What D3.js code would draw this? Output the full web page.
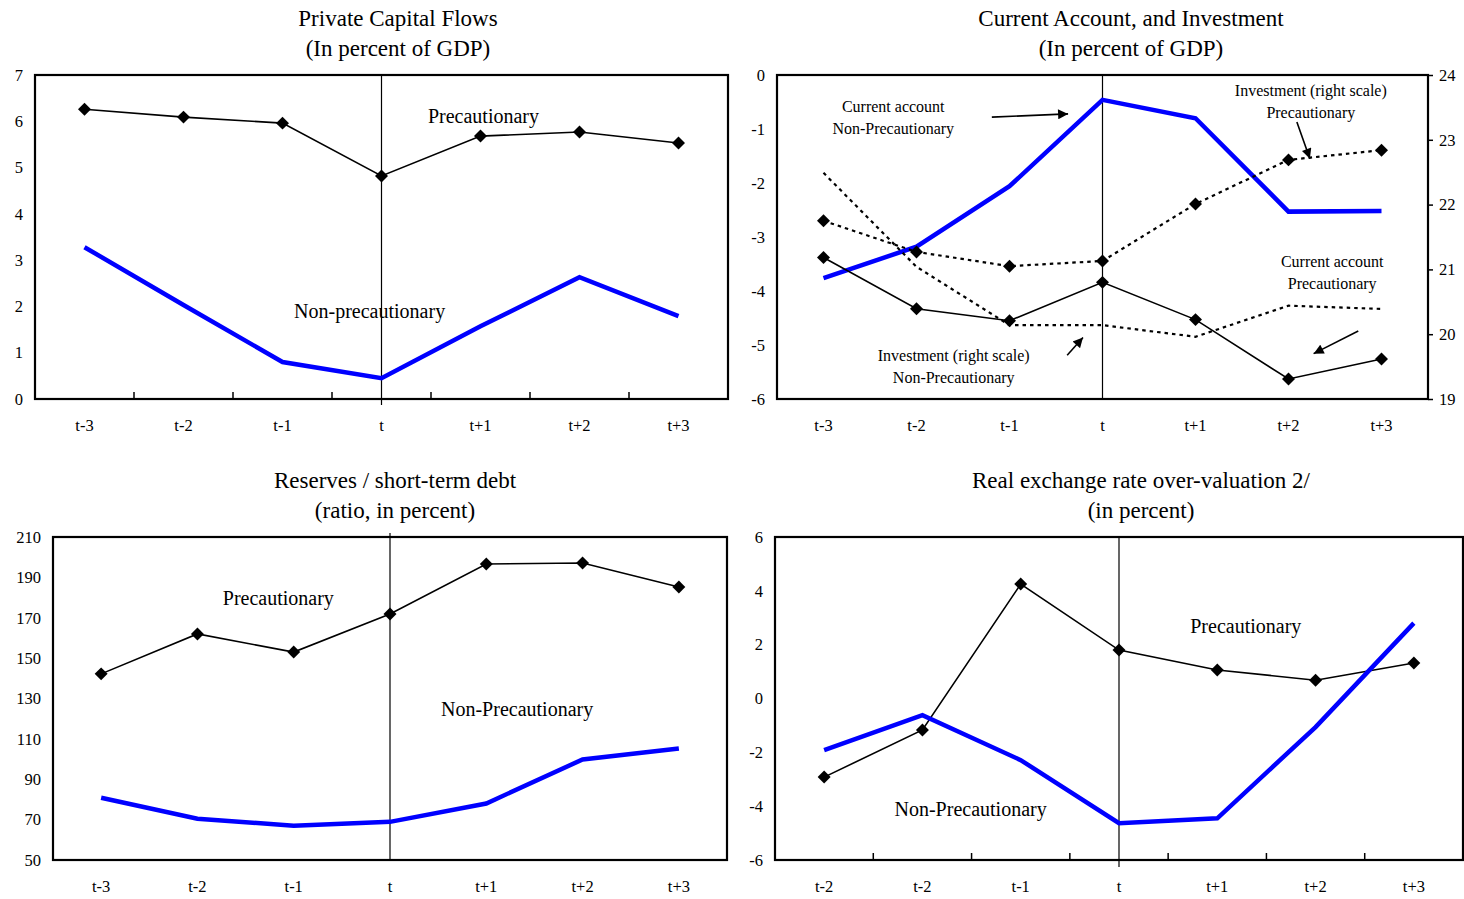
<!DOCTYPE html>
<html><head><meta charset="utf-8">
<script src="https://cdn.jsdelivr.net/npm/d3@7"></script>
<style>
body{margin:0;background:#fff;}
text{font-family:"Liberation Serif","Times New Roman",serif;fill:#000;}
</style></head>
<body><svg id="c" width="1464" height="899"></svg>
<script>
// ---------- data ----------
const periods = ["t-3","t-2","t-1","t","t+1","t+2","t+3"];
const periodsRER = ["t-2","t-2","t-1","t","t+1","t+2","t+3"];

const pcfPrecautionary = [6.26,6.09,5.96,4.82,5.68,5.77,5.53];
const pcfNonPrecautionary = [3.28,2.03,0.80,0.45,1.57,2.63,1.79];
const pcfTicks = [0,1,2,3,4,5,6,7];

const caPrecautionary = [-3.38,-4.33,-4.55,-3.84,-4.53,-5.63,-5.26];
const caNonPrecautionary = [-3.76,-3.18,-2.06,-0.46,-0.80,-2.53,-2.52];
const invPrecautionary = [21.75,21.27,21.05,21.13,22.01,22.69,22.84];
const invNonPrecautionary = [22.49,21.04,20.14,20.14,19.96,20.44,20.39];
const caTicks = [0,-1,-2,-3,-4,-5,-6];
const invTicks = [19,20,21,22,23,24];

const resPrecautionary = [142.2,162.0,153.0,171.9,196.6,197.1,185.2];
const resNonPrecautionary = [80.8,70.4,67.0,68.9,78.0,99.8,105.2];
const resTicks = [50,70,90,110,130,150,170,190,210];

const rerPrecautionary = [-2.92,-1.17,4.25,1.80,1.06,0.68,1.32];
const rerNonPrecautionary = [-1.92,-0.62,-2.29,-4.63,-4.45,-1.06,2.80];
const rerTicks = [-6,-4,-2,0,2,4,6];

// ---------- drawing ----------
const fmt = d => String(d);   // plain hyphen-minus, integers
const TICK_FS = 16.5;
const svg = d3.select("#c");
svg.append("defs").append("marker")
  .attr("id","arr").attr("viewBox","0 0 10 10").attr("refX",10).attr("refY",5)
  .attr("markerWidth",12).attr("markerHeight",10).attr("markerUnits","userSpaceOnUse")
  .attr("orient","auto")
  .append("path").attr("d","M0,0L10,5L0,10Z").attr("fill","#000");

function panel(o){
  const g = svg.append("g");
  const idx = d3.range(o.labels.length);
  const x = d3.scaleBand().domain(idx).range([o.x0,o.x1]).padding(0);
  const cx = i => x(i) + x.bandwidth()/2;
  const y = d3.scaleLinear().domain(o.yDomain).range([o.y1,o.y0]);

  o.title.forEach((t,k)=>{
    g.append("text").attr("x",o.titleX).attr("y",o.titleY + k*30)
      .attr("text-anchor","middle").attr("font-size",23).text(t);
  });

  const ly = d3.axisLeft(y).tickValues(o.yTicks).tickFormat(fmt).tickSize(0).tickPadding(o.labPad||12);
  const gy = g.append("g").attr("transform",`translate(${o.x0},0)`).call(ly);
  gy.select(".domain").remove();
  gy.selectAll("text").attr("font-size",TICK_FS).attr("font-family","Liberation Serif");

  const lx = d3.axisBottom(x).tickSize(0).tickPadding(20).tickFormat(i=>o.labels[i]);
  const gx = g.append("g").attr("transform",`translate(0,${o.y1})`).call(lx);
  gx.select(".domain").remove();
  gx.selectAll("text").attr("font-size",TICK_FS).attr("font-family","Liberation Serif");

  if(o.xTicks){
    g.selectAll(null).data(idx.slice(1)).enter().append("line")
      .attr("x1",i=>x(i)).attr("x2",i=>x(i))
      .attr("y1",o.y1).attr("y2",o.y1-7)
      .attr("stroke","#000").attr("stroke-width",1.5);
  }

  g.append("line").attr("x1",cx(3)).attr("x2",cx(3))
    .attr("y1",o.vTop).attr("y2",o.vBot).attr("stroke","#000").attr("stroke-width",1.2);

  g.append("rect").attr("x",o.x0).attr("y",o.y0).attr("width",o.x1-o.x0).attr("height",o.y1-o.y0)
    .attr("fill","none").attr("stroke","#000").attr("stroke-width",2.2);

  return {g,x,cx,y};
}

function blueLine(p,vals,yS){
  const ys = yS||p.y;
  p.g.append("path").datum(vals)
    .attr("d",d3.line().x((d,i)=>p.cx(i)).y(d=>ys(d)))
    .attr("fill","none").attr("stroke","#0000ff").attr("stroke-width",4.5)
    .attr("stroke-linejoin","miter");
}
function blackLine(p,vals,opts){
  opts = opts||{};
  const ys = opts.y||p.y;
  p.g.append("path").datum(vals)
    .attr("d",d3.line().x((d,i)=>p.cx(i)).y(d=>ys(d)))
    .attr("fill","none").attr("stroke","#000").attr("stroke-width",opts.dash?2.2:1.6)
    .attr("stroke-dasharray",opts.dash||null);
  if(opts.markers!==false){
    p.g.selectAll(null).data(vals).enter().append("path")
      .attr("d",d3.symbol(d3.symbolSquare,84)())
      .attr("transform",(d,i)=>`translate(${p.cx(i)},${ys(d)}) rotate(45)`)
      .attr("fill","#000");
  }
}
// lines centred on (xi, yv)
function label(p,lines,xi,yv,size){
  const yy = p.y(yv);
  const lh = size*1.375;
  lines.forEach((t,k)=>{
    p.g.append("text").attr("x",p.cx(0)+xi*p.x.bandwidth()).attr("y",yy+k*lh)
      .attr("dominant-baseline","central")
      .attr("text-anchor","middle").attr("font-size",size).text(t);
  });
}
function arrow(p,a,b){
  p.g.append("line")
    .attr("x1",p.cx(0)+a[0]*p.x.bandwidth()).attr("y1",p.y(a[1]))
    .attr("x2",p.cx(0)+b[0]*p.x.bandwidth()).attr("y2",p.y(b[1]))
    .attr("stroke","#000").attr("stroke-width",1.6).attr("marker-end","url(#arr)");
}

// Panel 1
const p1 = panel({x0:35,x1:728,y0:75,y1:399,yDomain:[0,7],yTicks:pcfTicks,labels:periods,
  title:["Private Capital Flows","(In percent of GDP)"],titleX:398,titleY:26,xTicks:true,vTop:75,vBot:405});
blackLine(p1,pcfPrecautionary);
blueLine(p1,pcfNonPrecautionary);
label(p1,["Precautionary"],4.03,6.11,20);
label(p1,["Non-precautionary"],2.88,1.90,20);

// Panel 2
const p2 = panel({x0:777,x1:1428,y0:75,y1:399,yDomain:[-6,0],yTicks:caTicks,labels:periods,
  title:["Current Account, and Investment","(In percent of GDP)"],titleX:1131,titleY:26,xTicks:false,vTop:75,vBot:399});
const yR = d3.scaleLinear().domain([19,24]).range([399,75]);
const ar = d3.axisRight(yR).tickValues(invTicks).tickFormat(fmt).tickSize(5).tickPadding(6);
const gr = p2.g.append("g").attr("transform","translate(1428,0)").call(ar);
gr.select(".domain").remove();
gr.selectAll("line").attr("stroke-width",1.5);
gr.selectAll("text").attr("font-size",TICK_FS).attr("font-family","Liberation Serif");
blueLine(p2,caNonPrecautionary);
blackLine(p2,caPrecautionary);
blackLine(p2,invPrecautionary,{y:yR,dash:"3.5,4"});
blackLine(p2,invNonPrecautionary,{y:yR,dash:"3.5,4",markers:false});
label(p2,["Current account","Non-Precautionary"],0.75,-0.59,16);
label(p2,["Investment (right scale)","Non-Precautionary"],1.40,-5.20,16);
label(p2,["Investment (right scale)","Precautionary"],5.24,-0.28,16);
label(p2,["Current account","Precautionary"],5.47,-3.46,16);
arrow(p2,[1.81,-0.78],[2.63,-0.72]);
arrow(p2,[2.62,-5.19],[2.79,-4.86]);
arrow(p2,[5.09,-0.87],[5.23,-1.55]);
arrow(p2,[5.75,-4.74],[5.27,-5.16]);

// Panel 3
const p3 = panel({x0:53,x1:727,y0:537,y1:860,yDomain:[50,210],yTicks:resTicks,labels:periods,
  title:["Reserves / short-term debt","(ratio, in percent)"],titleX:395,titleY:488,xTicks:false,vTop:533,vBot:860});
blackLine(p3,resPrecautionary);
blueLine(p3,resNonPrecautionary);
label(p3,["Precautionary"],1.84,179.8,20);
label(p3,["Non-Precautionary"],4.32,124.9,20);

// Panel 4
const p4 = panel({x0:775,x1:1463,y0:537,y1:860,yDomain:[-6,6],yTicks:rerTicks,labels:periodsRER,
  title:["Real exchange rate over-valuation 2/","(in percent)"],titleX:1141,titleY:488,xTicks:true,vTop:537,vBot:867});
blackLine(p4,rerPrecautionary);
blueLine(p4,rerNonPrecautionary);
label(p4,["Precautionary"],4.29,2.69,20);
label(p4,["Non-Precautionary"],1.49,-4.11,20);
</script></body></html>
